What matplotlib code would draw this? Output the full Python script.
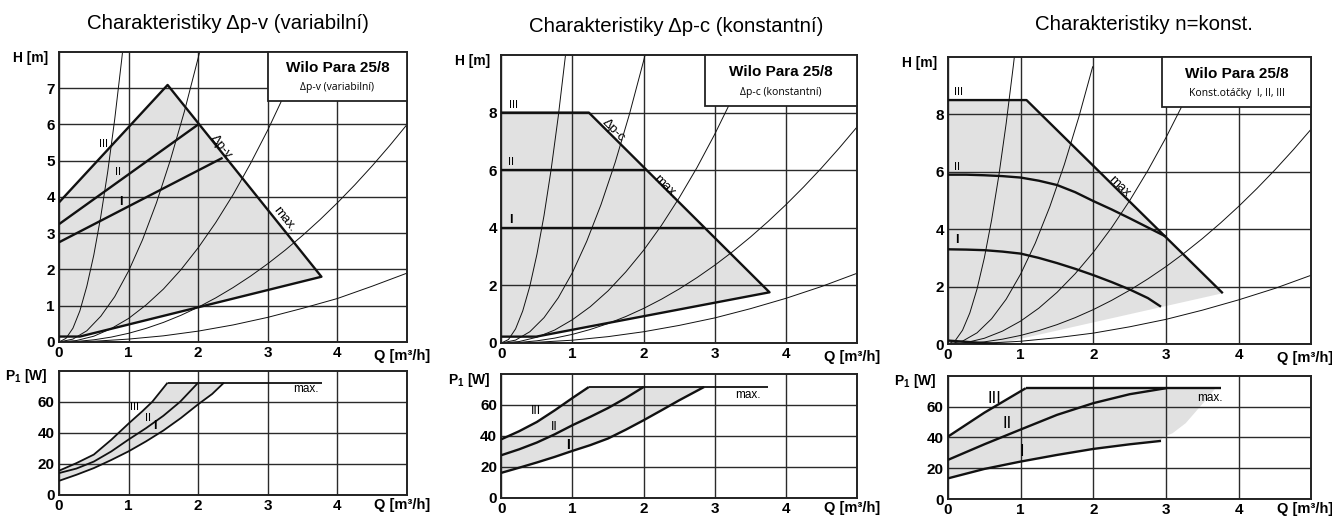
import matplotlib
matplotlib.use('Agg')
import matplotlib.pyplot as plt
from matplotlib.patches import Polygon, Rectangle

plt.rcParams['font.family'] = ['Liberation Sans', 'DejaVu Sans']
plt.rcParams['mathtext.fontset'] = 'custom'
plt.rcParams['mathtext.rm'] = 'Liberation Sans'
plt.rcParams['mathtext.bf'] = 'Liberation Sans:bold'

GREY = '#e1e1e1'
INK = '#111111'

# ---------------- Δp-v (variabilní) : H(Q) ----------------
pv_sys_q = [[0, 0.1, 0.2, 0.3, 0.4, 0.5, 0.6, 0.7, 0.8, 0.9, 0.93],
            [0, 0.2, 0.4, 0.6, 0.8, 1.0, 1.2, 1.4, 1.6, 1.8, 2.0, 2.05],
            [0, 0.25, 0.5, 0.75, 1.0, 1.25, 1.5, 1.75, 2.0, 2.25, 2.5, 2.75, 3.0, 3.25, 3.5],
            [0, 0.25, 0.5, 0.75, 1.0, 1.25, 1.5, 1.75, 2.0, 2.25, 2.5, 2.75, 3.0, 3.25, 3.5,
             3.75, 4.0, 4.25, 4.5, 4.75, 5.0],
            [0, 0.5, 1.0, 1.5, 2.0, 2.5, 3.0, 3.5, 4.0, 4.5, 5.0]]
pv_sys_h = [[0, 0.1, 0.38, 0.86, 1.54, 2.4, 3.46, 4.7, 6.14, 7.78, 8.3],
            [0, 0.08, 0.31, 0.71, 1.25, 1.96, 2.82, 3.84, 5.02, 6.35, 7.84, 8.24],
            [0, 0.04, 0.16, 0.37, 0.65, 1.02, 1.46, 1.99, 2.6, 3.29, 4.06, 4.92, 5.85, 6.87, 7.96],
            [0, 0.015, 0.06, 0.135, 0.24, 0.375, 0.54, 0.735, 0.96, 1.215, 1.5, 1.815, 2.16,
             2.535, 2.94, 3.375, 3.84, 4.335, 4.86, 5.415, 6.0],
            [0, 0.02, 0.08, 0.17, 0.3, 0.47, 0.68, 0.93, 1.2, 1.54, 1.9]]
pv_edge_q = [0, 1.56, 3.77, 0.30, 0]          # III + max + min
pv_edge_h = [3.85, 7.09, 1.80, 0.15, 0.15]
pv_II_q, pv_II_h = [0, 2.0], [3.25, 6.0]
pv_I_q, pv_I_h = [0, 2.35], [2.75, 5.08]

# Δp-v : P1(Q)
pv_pIII_q = [0, 0.25, 0.5, 0.75, 1.0, 1.2, 1.34, 1.56]
pv_pIII = [15.6, 20.5, 26.0, 35.5, 46.0, 54.0, 60.0, 72.3]
pv_pII_q = [0, 0.25, 0.5, 0.75, 1.0, 1.25, 1.5, 1.74, 2.0]
pv_pII = [14.1, 17.0, 21.5, 28.0, 35.7, 43.0, 51.0, 60.0, 72.3]
pv_pI_q = [0, 0.25, 0.5, 0.75, 1.0, 1.25, 1.5, 1.75, 2.0, 2.2, 2.37]
pv_pI = [9.1, 13.0, 17.3, 22.5, 28.1, 34.5, 41.5, 49.5, 58.4, 65.0, 72.3]
pv_pmax_q, pv_pmax = [1.56, 3.78], [72.3, 72.3]

# ---------------- Δp-c (konstantní) : H(Q) ----------------
pc_sys_q = [[0, 0.1, 0.2, 0.3, 0.4, 0.5, 0.6, 0.7, 0.8, 0.9, 0.92],
            [0, 0.2, 0.4, 0.6, 0.8, 1.0, 1.2, 1.4, 1.6, 1.8, 2.0, 2.05],
            [0, 0.25, 0.5, 0.75, 1.0, 1.25, 1.5, 1.75, 2.0, 2.25, 2.5, 2.75, 3.0, 3.25, 3.5],
            [0, 0.25, 0.5, 0.75, 1.0, 1.25, 1.5, 1.75, 2.0, 2.25, 2.5, 2.75, 3.0, 3.25, 3.5,
             3.75, 4.0, 4.25, 4.5, 4.75, 5.0],
            [0, 0.5, 1.0, 1.5, 2.0, 2.5, 3.0, 3.5, 4.0, 4.5, 5.0]]
pc_sys_h = [[0, 0.12, 0.49, 1.11, 1.97, 3.08, 4.43, 6.03, 7.87, 9.96, 10.41],
            [0, 0.1, 0.39, 0.88, 1.57, 2.45, 3.53, 4.8, 6.27, 7.94, 9.8, 10.3],
            [0, 0.05, 0.2, 0.45, 0.81, 1.26, 1.81, 2.47, 3.22, 4.08, 5.04, 6.09, 7.25, 8.51, 9.87],
            [0, 0.019, 0.075, 0.169, 0.3, 0.469, 0.675, 0.919, 1.2, 1.519, 1.875, 2.269, 2.7,
             3.169, 3.675, 4.219, 4.8, 5.419, 6.075, 6.769, 7.5],
            [0, 0.024, 0.097, 0.22, 0.39, 0.61, 0.87, 1.19, 1.55, 1.96, 2.42]]
pc_edge_q = [0, 1.23, 3.77, 0.49, 0]
pc_edge_h = [8.0, 8.0, 1.76, 0.22, 0.22]
pc_II_q, pc_II_h = [0, 2.02], [6.0, 6.0]
pc_I_q, pc_I_h = [0, 2.85], [4.0, 4.0]

# Δp-c : P1(Q)
pc_pIII_q = [0, 0.25, 0.5, 0.75, 1.0, 1.23]
pc_pIII = [37.8, 43.0, 49.0, 56.5, 64.5, 71.6]
pc_pII_q = [0, 0.25, 0.5, 0.75, 1.0, 1.25, 1.5, 1.75, 2.0]
pc_pII = [27.5, 31.3, 35.7, 41.0, 46.9, 52.3, 58.0, 64.5, 71.6]
pc_pI_q = [0, 0.25, 0.5, 0.75, 1.0, 1.25, 1.5, 1.75, 2.0, 2.25, 2.5, 2.85]
pc_pI = [16.1, 19.4, 22.8, 26.4, 30.3, 34.0, 38.3, 44.0, 50.1, 56.5, 63.0, 71.6]
pc_pmax_q, pc_pmax = [1.23, 3.75], [71.6, 71.6]

# ---------------- n=konst. : H(Q) ----------------
nk_sys_q = [[0, 0.1, 0.2, 0.3, 0.4, 0.5, 0.6, 0.7, 0.8, 0.9, 0.92],
            [0, 0.2, 0.4, 0.6, 0.8, 1.0, 1.2, 1.4, 1.6, 1.8, 1.99],
            [0, 0.25, 0.5, 0.75, 1.0, 1.25, 1.5, 1.75, 2.0, 2.25, 2.5, 2.75, 3.0, 3.25, 3.5],
            [0, 0.25, 0.5, 0.75, 1.0, 1.25, 1.5, 1.75, 2.0, 2.25, 2.5, 2.75, 3.0, 3.25, 3.5,
             3.75, 4.0, 4.25, 4.5, 4.75, 5.0],
            [0, 0.5, 1.0, 1.5, 2.0, 2.5, 3.0, 3.5, 4.0, 4.5, 5.0]]
nk_sys_h = [[0, 0.12, 0.48, 1.08, 1.92, 3.0, 4.32, 5.88, 7.68, 9.72, 10.16],
            [0, 0.1, 0.39, 0.88, 1.56, 2.44, 3.51, 4.78, 6.25, 7.91, 9.66],
            [0, 0.05, 0.2, 0.45, 0.8, 1.25, 1.8, 2.45, 3.2, 4.05, 5.0, 6.05, 7.2, 8.45, 9.8],
            [0, 0.019, 0.075, 0.169, 0.3, 0.469, 0.675, 0.919, 1.2, 1.519, 1.875, 2.269, 2.7,
             3.169, 3.675, 4.219, 4.8, 5.419, 6.075, 6.769, 7.5],
            [0, 0.024, 0.096, 0.22, 0.38, 0.6, 0.86, 1.18, 1.54, 1.94, 2.4]]
nk_area_q = [0, 0, 1.08, 3.78, 0.68]
nk_area_h = [0.12, 8.5, 8.5, 1.77, 0.0]
nk_top_q, nk_top_h = [0, 1.08, 3.78], [8.5, 8.5, 1.77]
nk_II_q = [0, 0.25, 0.5, 0.75, 1.0, 1.25, 1.5, 1.75, 2.0, 2.25, 2.5, 2.75, 3.0]
nk_II_h = [5.9, 5.9, 5.88, 5.85, 5.8, 5.69, 5.54, 5.29, 4.98, 4.69, 4.38, 4.06, 3.74]
nk_I_q = [0, 0.25, 0.5, 0.75, 1.0, 1.25, 1.5, 1.75, 2.0, 2.25, 2.5, 2.75, 2.93]
nk_I_h = [3.3, 3.29, 3.27, 3.22, 3.15, 3.0, 2.82, 2.62, 2.4, 2.16, 1.9, 1.6, 1.3]
nk_low_q, nk_low_h = [0, 0.68], [0.12, 0.0]

# n=konst. : P1(Q)
nk_pIII_q, nk_pIII = [0, 0.5, 1.07], [40.5, 56.0, 71.9]
nk_pII_q = [0, 0.5, 1.0, 1.5, 2.0, 2.5, 3.0]
nk_pII = [25.4, 35.5, 45.1, 54.6, 62.2, 68.0, 71.9]
nk_pI_q = [0, 0.5, 1.0, 1.5, 2.0, 2.5, 2.93]
nk_pI = [13.4, 19.5, 24.3, 28.6, 32.5, 35.5, 37.7]
nk_pmax_q, nk_pmax = [1.07, 3.76], [71.9, 71.9]
nk_pedge_q = [3.68, 3.55, 3.41, 3.27, 3.09, 2.95]
nk_pedge = [71.9, 64.4, 56.8, 49.2, 42.7, 39.9]

q_ticks = [0, 1, 2, 3, 4]


def style(ax, ylim, yticks, ylabel):
    ax.set_xlim(0, 5)
    ax.set_ylim(*ylim)
    ax.set_xticks(q_ticks)
    ax.set_yticks(yticks)
    ax.grid(True, color='#2a2a2a', lw=1.0)
    ax.tick_params(length=0, labelsize=11, pad=3)
    for lab in ax.get_xticklabels() + ax.get_yticklabels():
        lab.set_fontweight('bold')
    for s in ax.spines.values():
        s.set_linewidth(1.4)
        s.set_color('#222222')
    ax.annotate(ylabel, xy=(0, 1), xycoords='axes fraction', xytext=(-8, -4),
                textcoords='offset points', ha='right', va='center',
                fontsize=10, fontweight='bold')
    ax.text(4.53, -0.025, 'Q [m³/h]', transform=ax.get_xaxis_transform(),
            ha='left', va='top', fontsize=10.5, fontweight='bold')


def thick(ax, q, h, lw=1.7):
    ax.plot(q, h, color=INK, lw=lw, solid_joinstyle='round', solid_capstyle='butt', zorder=3)


def system(ax, qs, hs):
    for q, h in zip(qs, hs):
        ax.plot(q, h, color=INK, lw=0.7, solid_joinstyle='round', zorder=2)


def box(ax, x0, y0, w, h, sub):
    ax.add_patch(Rectangle((x0, y0), w, h, facecolor='white', edgecolor='#222222',
                           lw=1.3, zorder=4, clip_on=False))
    ax.text(x0 + w / 2, y0 + h * 0.66, 'Wilo Para 25/8', ha='center', va='center',
            fontsize=11, fontweight='bold', zorder=5)
    ax.text(x0 + w / 2, y0 + h * 0.27, sub, ha='center', va='center',
            fontsize=7.5, family=['Open Sans', 'DejaVu Sans'], zorder=5)


def tag(ax, x, y, s, size=8, weight='normal', rot=0):
    ax.text(x, y, s, ha='center', va='center', fontsize=size, fontweight=weight,
            rotation=rot, rotation_mode='anchor', zorder=5)


fig = plt.figure(figsize=(13.32, 5.17), dpi=100)

# ----- panel 1 -----
ax = fig.add_axes([0.0443, 0.3385, 0.2613, 0.561])
style(ax, (0, 8), range(0, 8), 'H [m]')
ax.add_patch(Polygon(list(zip(pv_edge_q, pv_edge_h)), closed=True, facecolor=GREY,
                     edgecolor='none', zorder=1))
system(ax, pv_sys_q, pv_sys_h)
thick(ax, pv_edge_q, pv_edge_h)
thick(ax, pv_II_q, pv_II_h)
thick(ax, pv_I_q, pv_I_h)
box(ax, 3.0, 6.66, 2.0, 1.34, 'Δp-v (variabilní)')
tag(ax, 0.64, 5.46, 'III')
tag(ax, 0.85, 4.68, 'II')
tag(ax, 0.89, 3.87, 'I', size=9, weight='bold')
tag(ax, 2.33, 5.37, 'Δp-v', size=9.5, rot=-51.4)
tag(ax, 3.24, 3.39, 'max.', size=9.5, rot=-51.4)

ax = fig.add_axes([0.0443, 0.0426, 0.2613, 0.2404])
style(ax, (0, 80), [0, 20, 40, 60], r'P$_{\mathbf{1}}$ [W]')
ax.add_patch(Polygon(list(zip(pv_pIII_q + pv_pI_q[::-1], pv_pIII + pv_pI[::-1])),
                     closed=True, facecolor=GREY, edgecolor='none', zorder=1))
thick(ax, pv_pIII_q, pv_pIII, lw=1.3)
thick(ax, pv_pII_q, pv_pII, lw=1.3)
thick(ax, pv_pI_q, pv_pI, lw=1.3)
thick(ax, pv_pmax_q, pv_pmax, lw=1.3)
tag(ax, 1.08, 56.8, 'III')
tag(ax, 1.28, 49.6, 'II')
tag(ax, 1.38, 44.7, 'I', size=9, weight='bold')
tag(ax, 3.55, 68.4, 'max.', size=8.5)

# ----- panel 2 -----
ax = fig.add_axes([0.3764, 0.3366, 0.2670, 0.557])
style(ax, (0, 10), [0, 2, 4, 6, 8], 'H [m]')
ax.add_patch(Polygon(list(zip(pc_edge_q, pc_edge_h)), closed=True, facecolor=GREY,
                     edgecolor='none', zorder=1))
system(ax, pc_sys_q, pc_sys_h)
thick(ax, pc_edge_q, pc_edge_h)
thick(ax, pc_II_q, pc_II_h)
thick(ax, pc_I_q, pc_I_h)
box(ax, 2.86, 8.23, 2.14, 1.77, 'Δp-c (konstantní)')
tag(ax, 0.17, 8.25, 'III')
tag(ax, 0.14, 6.3, 'II')
tag(ax, 0.13, 4.27, 'I', size=9, weight='bold')
tag(ax, 1.58, 7.4, 'Δp-c', size=9.5, rot=-45)
tag(ax, 2.31, 5.43, 'max.', size=9.5, rot=-45)

ax = fig.add_axes([0.3764, 0.0373, 0.2670, 0.2393])
style(ax, (0, 80), [0, 20, 40, 60], r'P$_{\mathbf{1}}$ [W]')
ax.add_patch(Polygon(list(zip(pc_pIII_q + pc_pI_q[::-1], pc_pIII + pc_pI[::-1])),
                     closed=True, facecolor=GREY, edgecolor='none', zorder=1))
thick(ax, pc_pIII_q, pc_pIII)
thick(ax, pc_pII_q, pc_pII)
thick(ax, pc_pI_q, pc_pI)
thick(ax, pc_pmax_q, pc_pmax, lw=1.3)
tag(ax, 0.49, 55.9, 'III', size=9)
tag(ax, 0.75, 46.0, 'II', size=9)
tag(ax, 0.94, 34.4, 'I', size=10, weight='bold')
tag(ax, 3.47, 66.5, 'max.', size=8.5)

# ----- panel 3 -----
ax = fig.add_axes([0.7117, 0.3346, 0.2729, 0.5551])
style(ax, (0, 10), [0, 2, 4, 6, 8], 'H [m]')
ax.add_patch(Polygon(list(zip(nk_area_q, nk_area_h)), closed=True, facecolor=GREY,
                     edgecolor='none', zorder=1))
system(ax, nk_sys_q, nk_sys_h)
thick(ax, nk_top_q, nk_top_h)
thick(ax, nk_II_q, nk_II_h)
thick(ax, nk_I_q, nk_I_h)
thick(ax, nk_low_q, nk_low_h)
box(ax, 2.94, 8.26, 2.06, 1.74, 'Konst.otáčky  I, II, III')
tag(ax, 0.14, 8.79, 'III')
tag(ax, 0.12, 6.18, 'II')
tag(ax, 0.12, 3.62, 'I', size=9, weight='bold')
tag(ax, 2.36, 5.48, 'max', size=9.5, rot=-44.5)

ax = fig.add_axes([0.7117, 0.0348, 0.2729, 0.2385])
style(ax, (0, 80), [0, 20, 40, 60], r'P$_{\mathbf{1}}$ [W]')
ax.add_patch(Polygon(list(zip(nk_pIII_q + nk_pmax_q[1:] + nk_pedge_q + nk_pI_q[::-1],
                              nk_pIII + nk_pmax[1:] + nk_pedge + nk_pI[::-1])),
                     closed=True, facecolor=GREY, edgecolor='none', zorder=1))
thick(ax, nk_pIII_q, nk_pIII)
thick(ax, nk_pII_q, nk_pII)
thick(ax, nk_pI_q, nk_pI)
thick(ax, nk_pmax_q, nk_pmax)
tag(ax, 0.64, 65.4, 'III', size=12)
tag(ax, 0.82, 49.2, 'II', size=12)
tag(ax, 1.02, 30.7, 'I', size=12)
tag(ax, 3.6, 65.8, 'max.', size=8.5)

fig.text(0.171, 0.955, 'Charakteristiky Δp-v (variabilní)', ha='center', va='center', fontsize=14.7)
fig.text(0.5075, 0.948, 'Charakteristiky Δp-c (konstantní)', ha='center', va='center', fontsize=14.7)
fig.text(0.859, 0.952, 'Charakteristiky n=konst.', ha='center', va='center', fontsize=14.7)

fig.savefig('out.png', dpi=100)
